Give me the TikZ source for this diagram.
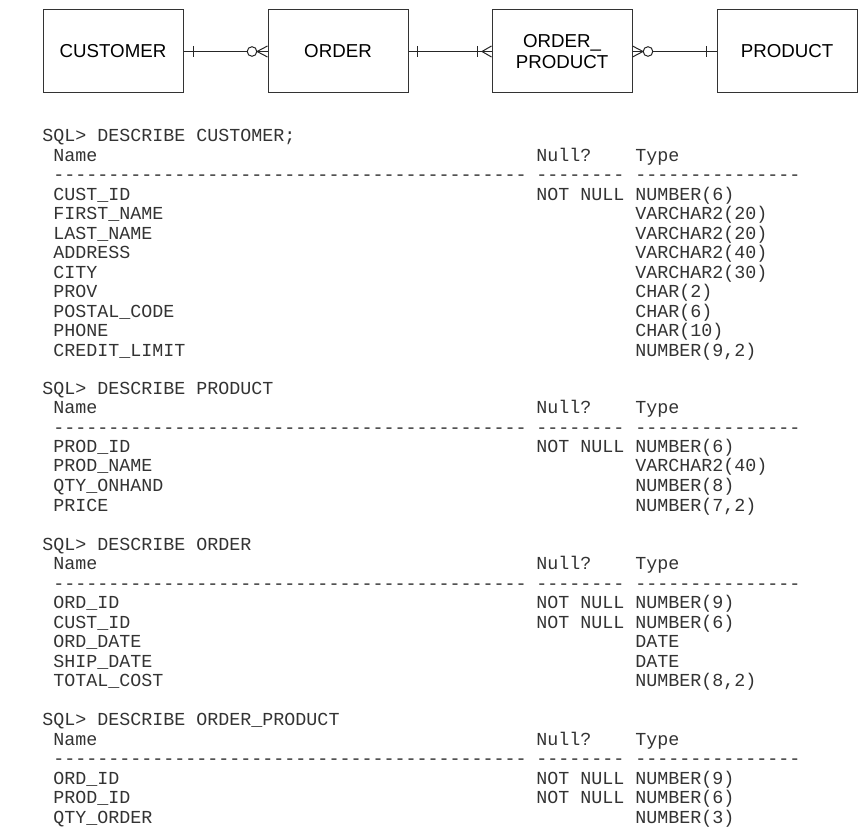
\documentclass[tikz,border=0pt]{standalone}
\usepackage{fontspec}
\setmonofont{Liberation Mono}
\newfontfamily\boxfont{Liberation Sans}
\usetikzlibrary{calc}

% crow's foot marks, #1 = anchor on the box, #2 = offset in px
\newcommand{\onemark}[2]{\draw[rel] ($(#1)+(#2,-5.5)$) -- ($(#1)+(#2,5.5)$);}
\newcommand{\manymark}[2]{\draw[rel] ($(#1)+(0,-5.5)$) -- ($(#1)+(#2,0)$) -- ($(#1)+(0,5.5)$);}
\newcommand{\zeromark}[2]{\draw[rel, fill=white] ($(#1)+(#2,0)$) circle (2.4pt);}

% header of one DESCRIBE listing, #1 = prefix, #2 = baseline, #3 = text
\newcommand{\sqlhead}[3]{%
  \node[sql] (#1-sql) at (42,#2) {SQL> DESCRIBE #3};
  \node[sql] (#1-name) at (53,#2+19.5) {Name};
  \node[sql] (#1-null) at (536,#2+19.5) {Null?};
  \node[sql] (#1-type) at (635,#2+19.5) {Type};
  \node[sql] (#1-dash) at (53,#2+39) {-------------------------------------------};
  \node[sql] (#1-ndash) at (536,#2+39) {--------};
  \node[sql] (#1-tdash) at (635,#2+39) {---------------};}

\begin{document}
\begin{tikzpicture}[x=0.5pt, y=-0.5pt,
    entity/.style={draw=black!80, line width=0.5pt, minimum width=70pt, minimum height=41.5pt,
      inner sep=0pt, align=center, font=\boxfont\fontsize{9.35pt}{10.5pt}\selectfont},
    rel/.style={black!85, line width=0.5pt},
    sql/.style={anchor=base west, inner sep=0pt, text=black!80,
      font=\ttfamily\fontsize{9.17pt}{9.75pt}\selectfont}]
    \useasboundingbox (0,0) rectangle (867,839);

    % Entities
    \node[entity] (cust) at (113,51.5) {CUSTOMER};
    \node[entity] (ord) at (338,51.5) {ORDER};
    \node[entity] (ordprod) at (562,51.5) {ORDER\_\\PRODUCT};
    \node[entity] (prod) at (787,51.5) {PRODUCT};

    % Relationships
    \draw[rel] (cust) -- (ord);
    \onemark{cust.east}{10}
    \manymark{ord.west}{-10.5}
    \zeromark{ord.west}{-15.5}

    \draw[rel] (ord) -- (ordprod);
    \onemark{ord.east}{9}
    \onemark{ordprod.west}{-14}
    \manymark{ordprod.west}{-9.5}

    \draw[rel] (ordprod) -- (prod);
    \manymark{ordprod.east}{10.5}
    \zeromark{ordprod.east}{15.5}
    \onemark{prod.west}{-10}

    % CUSTOMER
    \sqlhead{cust}{142}{CUSTOMER;}
    \foreach \i/\col/\typ in {1/CUST\_ID/NUMBER(6), 2/FIRST\_NAME/VARCHAR2(20),
        3/LAST\_NAME/VARCHAR2(20), 4/ADDRESS/VARCHAR2(40), 5/CITY/VARCHAR2(30),
        6/PROV/CHAR(2), 7/POSTAL\_CODE/CHAR(6), 8/PHONE/CHAR(10), 9/CREDIT\_LIMIT/{NUMBER(9,2)}} {
      \node[sql] (cust-col\i) at (53,{181+19.5*\i}) {\col};
      \node[sql] (cust-typ\i) at (635,{181+19.5*\i}) {\typ};
    }
    \node[sql] (cust-nn1) at (536,200.5) {NOT NULL};

    % PRODUCT
    \sqlhead{prod}{394}{PRODUCT}
    \foreach \i/\col/\typ in {1/PROD\_ID/NUMBER(6), 2/PROD\_NAME/VARCHAR2(40),
        3/QTY\_ONHAND/NUMBER(8), 4/PRICE/{NUMBER(7,2)}} {
      \node[sql] (prod-col\i) at (53,{433+19.5*\i}) {\col};
      \node[sql] (prod-typ\i) at (635,{433+19.5*\i}) {\typ};
    }
    \node[sql] (prod-nn1) at (536,452.5) {NOT NULL};

    % ORDER
    \sqlhead{ord}{550}{ORDER}
    \foreach \i/\col/\typ in {1/ORD\_ID/NUMBER(9), 2/CUST\_ID/NUMBER(6),
        3/ORD\_DATE/DATE, 4/SHIP\_DATE/DATE, 5/TOTAL\_COST/{NUMBER(8,2)}} {
      \node[sql] (ord-col\i) at (53,{589+19.5*\i}) {\col};
      \node[sql] (ord-typ\i) at (635,{589+19.5*\i}) {\typ};
    }
    \node[sql] (ord-nn1) at (536,608.5) {NOT NULL};
    \node[sql] (ord-nn2) at (536,628) {NOT NULL};

    % ORDER_PRODUCT
    \sqlhead{op}{725.5}{ORDER\_PRODUCT}
    \foreach \i/\col/\typ in {1/ORD\_ID/NUMBER(9), 2/PROD\_ID/NUMBER(6), 3/QTY\_ORDER/NUMBER(3)} {
      \node[sql] (op-col\i) at (53,{764.5+19.5*\i}) {\col};
      \node[sql] (op-typ\i) at (635,{764.5+19.5*\i}) {\typ};
    }
    \node[sql] (op-nn1) at (536,784) {NOT NULL};
    \node[sql] (op-nn2) at (536,803.5) {NOT NULL};
\end{tikzpicture}
\end{document}
